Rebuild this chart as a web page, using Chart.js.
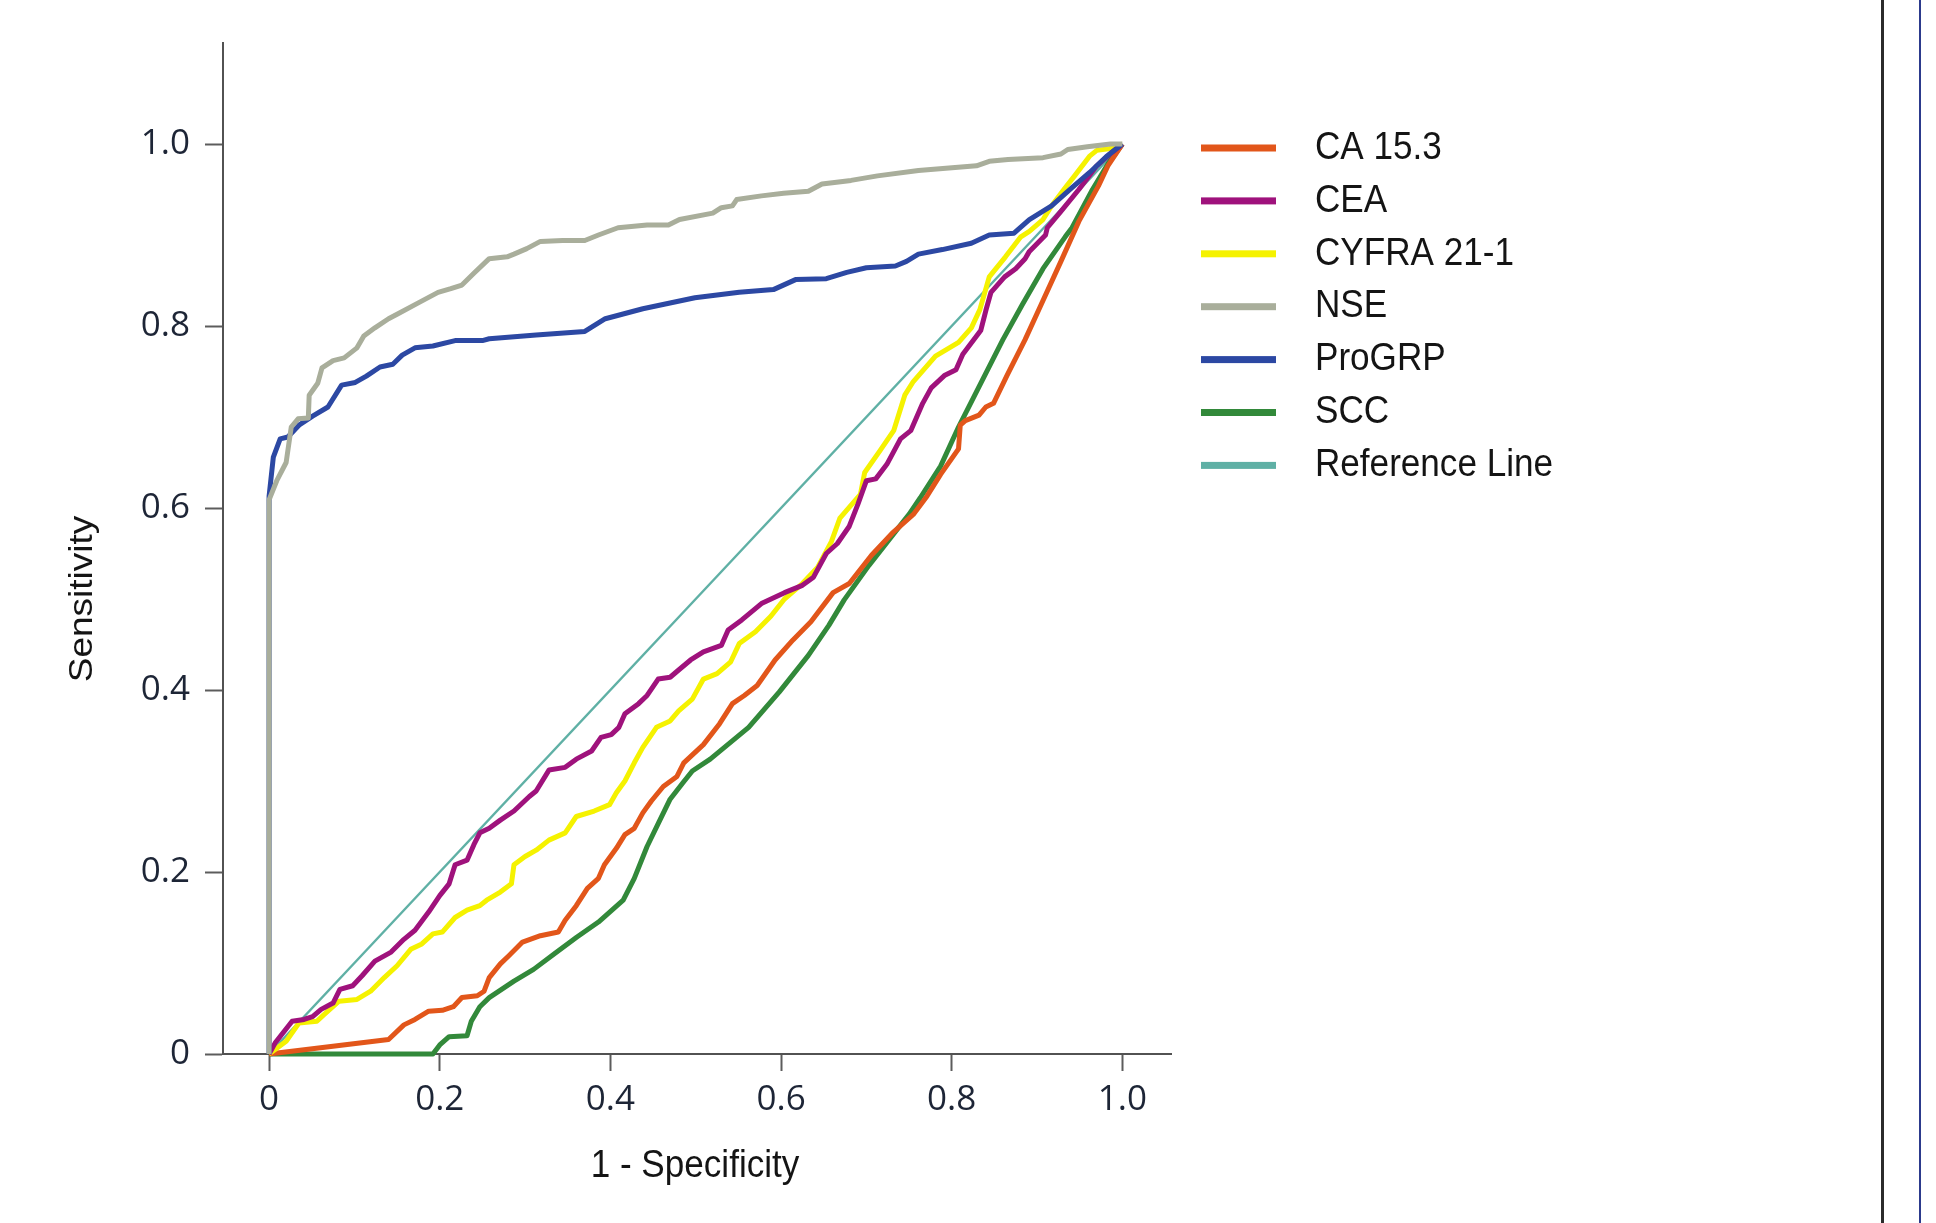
<!DOCTYPE html>
<html>
<head>
<meta charset="utf-8">
<title>ROC curves</title>
<script src="https://cdn.jsdelivr.net/npm/chart.js@4.4.1/dist/chart.umd.min.js"></script>
<style>
  html, body { margin: 0; padding: 0; background: #fff; }
  #wrap { position: relative; width: 1936px; height: 1223px; overflow: hidden; }
  #roc { position: absolute; left: 0; top: 0; }
  .edge { position: absolute; top: 0; height: 1223px; }
</style>
</head>
<body>
<div id="wrap">
  <canvas id="roc" width="1936" height="1223"></canvas>
  <div class="edge" style="left:1881px;width:3px;background:#2b2b2b"></div>
  <div class="edge" style="left:1919px;width:2px;background:#2c3a8c"></div>
</div>
<script>
// ROC curves, [1 - specificity, sensitivity]
const ca153 = [[0,0],[0.140,0.016],[0.158,0.032],[0.171,0.038],[0.187,0.047],[0.203,0.048],[0.216,0.052],[0.226,0.062],[0.244,0.064],[0.252,0.069],[0.258,0.084],[0.271,0.099],[0.281,0.108],[0.297,0.123],[0.318,0.130],[0.339,0.134],[0.347,0.147],[0.360,0.163],[0.373,0.182],[0.386,0.193],[0.393,0.208],[0.407,0.226],[0.417,0.241],[0.428,0.248],[0.438,0.265],[0.448,0.278],[0.462,0.294],[0.478,0.305],[0.486,0.320],[0.509,0.340],[0.528,0.363],[0.543,0.385],[0.557,0.394],[0.572,0.405],[0.593,0.433],[0.614,0.455],[0.635,0.475],[0.661,0.507],[0.680,0.517],[0.706,0.548],[0.730,0.572],[0.755,0.593],[0.771,0.613],[0.787,0.637],[0.808,0.665],[0.810,0.691],[0.816,0.696],[0.832,0.702],[0.840,0.711],[0.849,0.715],[0.865,0.746],[0.886,0.785],[0.905,0.824],[0.928,0.871],[0.949,0.915],[0.972,0.954],[0.983,0.976],[1,1]];

const cea = [[0,0],[0.007,0.012],[0.027,0.036],[0.041,0.038],[0.051,0.041],[0.061,0.049],[0.075,0.056],[0.083,0.071],[0.098,0.075],[0.109,0.086],[0.124,0.102],[0.143,0.112],[0.158,0.126],[0.171,0.136],[0.187,0.156],[0.200,0.174],[0.211,0.187],[0.218,0.208],[0.232,0.213],[0.240,0.230],[0.247,0.243],[0.258,0.248],[0.271,0.257],[0.287,0.267],[0.305,0.283],[0.313,0.289],[0.328,0.312],[0.347,0.315],[0.360,0.324],[0.378,0.333],[0.389,0.348],[0.401,0.351],[0.410,0.359],[0.417,0.374],[0.433,0.385],[0.443,0.394],[0.456,0.412],[0.470,0.414],[0.480,0.422],[0.494,0.433],[0.509,0.442],[0.530,0.449],[0.538,0.466],[0.554,0.477],[0.577,0.495],[0.604,0.507],[0.625,0.515],[0.638,0.524],[0.653,0.550],[0.666,0.561],[0.680,0.580],[0.690,0.604],[0.700,0.630],[0.711,0.632],[0.724,0.648],[0.740,0.676],[0.752,0.685],[0.766,0.715],[0.776,0.732],[0.792,0.746],[0.805,0.752],[0.813,0.769],[0.834,0.795],[0.840,0.817],[0.846,0.837],[0.862,0.854],[0.875,0.863],[0.886,0.874],[0.891,0.882],[0.910,0.900],[0.912,0.908],[0.928,0.926],[0.949,0.950],[0.970,0.976],[0.988,0.991],[1,1]];

const cyfra = [[0,0],[0.020,0.014],[0.035,0.034],[0.056,0.036],[0.064,0.043],[0.082,0.058],[0.103,0.060],[0.119,0.069],[0.135,0.084],[0.150,0.097],[0.166,0.115],[0.179,0.121],[0.192,0.132],[0.203,0.134],[0.218,0.150],[0.232,0.158],[0.247,0.163],[0.255,0.169],[0.271,0.178],[0.284,0.187],[0.287,0.208],[0.300,0.217],[0.313,0.224],[0.328,0.235],[0.347,0.243],[0.360,0.261],[0.381,0.267],[0.399,0.274],[0.407,0.287],[0.417,0.300],[0.428,0.320],[0.438,0.337],[0.454,0.359],[0.470,0.366],[0.480,0.377],[0.496,0.390],[0.509,0.412],[0.525,0.418],[0.541,0.431],[0.551,0.451],[0.570,0.464],[0.588,0.481],[0.604,0.500],[0.625,0.517],[0.643,0.535],[0.659,0.563],[0.669,0.589],[0.693,0.615],[0.698,0.639],[0.716,0.663],[0.732,0.685],[0.745,0.724],[0.755,0.739],[0.781,0.767],[0.808,0.782],[0.823,0.798],[0.833,0.818],[0.844,0.854],[0.863,0.876],[0.881,0.898],[0.891,0.904],[0.907,0.917],[0.917,0.932],[0.933,0.952],[0.944,0.965],[0.962,0.987],[0.970,0.993],[0.986,0.995],[1,1]];

const nse = [[0,0],[0,0.609],[0.009,0.630],[0.020,0.650],[0.026,0.689],[0.034,0.698],[0.046,0.699],[0.047,0.724],[0.057,0.737],[0.062,0.754],[0.075,0.762],[0.088,0.765],[0.103,0.776],[0.111,0.789],[0.124,0.798],[0.140,0.808],[0.150,0.813],[0.176,0.826],[0.198,0.837],[0.213,0.841],[0.226,0.845],[0.240,0.858],[0.258,0.874],[0.279,0.876],[0.287,0.879],[0.302,0.885],[0.318,0.893],[0.344,0.894],[0.370,0.894],[0.386,0.900],[0.409,0.908],[0.443,0.911],[0.468,0.911],[0.481,0.917],[0.520,0.924],[0.530,0.930],[0.543,0.932],[0.548,0.939],[0.577,0.943],[0.603,0.946],[0.632,0.948],[0.648,0.956],[0.682,0.960],[0.713,0.965],[0.761,0.971],[0.829,0.976],[0.844,0.981],[0.866,0.983],[0.907,0.985],[0.928,0.989],[0.936,0.994],[0.959,0.997],[0.986,1.0],[1,1]];

const progrp = [[0,0],[0,0.613],[0.005,0.656],[0.013,0.676],[0.022,0.678],[0.035,0.691],[0.051,0.701],[0.069,0.711],[0.085,0.735],[0.101,0.738],[0.114,0.745],[0.130,0.755],[0.145,0.758],[0.156,0.768],[0.171,0.776],[0.192,0.778],[0.218,0.784],[0.250,0.784],[0.258,0.786],[0.313,0.790],[0.370,0.794],[0.394,0.808],[0.438,0.819],[0.499,0.831],[0.551,0.837],[0.591,0.840],[0.617,0.851],[0.653,0.852],[0.677,0.859],[0.700,0.864],[0.734,0.866],[0.747,0.871],[0.761,0.879],[0.789,0.884],[0.823,0.891],[0.844,0.900],[0.873,0.902],[0.891,0.917],[0.917,0.932],[0.941,0.952],[0.962,0.969],[0.981,0.986],[1,1]];

const scc = [[0,0],[0.192,0],[0.200,0.010],[0.211,0.019],[0.232,0.020],[0.237,0.036],[0.247,0.052],[0.258,0.062],[0.287,0.080],[0.310,0.093],[0.334,0.110],[0.360,0.128],[0.386,0.145],[0.415,0.169],[0.428,0.193],[0.443,0.228],[0.457,0.255],[0.470,0.280],[0.485,0.298],[0.496,0.311],[0.517,0.324],[0.562,0.359],[0.598,0.398],[0.632,0.438],[0.656,0.471],[0.674,0.499],[0.703,0.537],[0.734,0.574],[0.750,0.593],[0.763,0.611],[0.787,0.646],[0.808,0.689],[0.834,0.737],[0.860,0.785],[0.883,0.824],[0.907,0.863],[0.933,0.898],[0.941,0.908],[0.965,0.950],[0.983,0.978],[1,1]];

const refLine = [[0,0],[1,1]];

const seriesNames = ['CA 15.3', 'CEA', 'CYFRA 21-1', 'NSE', 'ProGRP', 'SCC', 'Reference Line'];
const seriesData = [ca153, cea, cyfra, nse, progrp, scc, refLine];
const seriesColors = ['#e2561a', '#9f127c', '#f5f200', '#a9ae9b', '#2c48a3', '#32893a', '#5fb0a5'];
const seriesWidths = [5, 5, 5, 5, 5, 5, 2.5];
const drawOrder = [4, 2, 3, 0, 1, 5, 6];   // lower = drawn on top

const tickValues = [0, 0.2, 0.4, 0.6, 0.8, 1.0];
const tickLabels = ['0', '0.2', '0.4', '0.6', '0.8', '1.0'];
const xTitle = '1 - Specificity';
const yTitle = 'Sensitivity';

// the SPSS-style texts in the figure are a little narrower than Arial
const SQUEEZE = 0.9;
const textFont = '"Liberation Sans", Arial, sans-serif';
const tickFont = {family: '"Open Sans", "Noto Sans", sans-serif', size: 35};
const tickColor = '#1d2536';

// axis titles and legend drawn by hand so they can be squeezed like the original
const rocText = {
  id: 'rocText',
  afterDraw(chart) {
    const {ctx, scales: {x, y}} = chart;
    ctx.save();
    ctx.fillStyle = '#141414';

    ctx.font = '37px ' + textFont;
    ctx.textAlign = 'center';
    ctx.textBaseline = 'alphabetic';
    ctx.save();
    ctx.translate(92, y.getPixelForValue(0.5));
    ctx.scale(SQUEEZE, 1);
    ctx.rotate(-Math.PI / 2);
    ctx.fillText(yTitle, 0, 0);
    ctx.restore();

    ctx.font = '39px ' + textFont;
    ctx.save();
    ctx.translate((x.left + x.right) / 2 - 2, 1177);
    ctx.scale(SQUEEZE, 1);
    ctx.fillText(xTitle, 0, 0);
    ctx.restore();

    ctx.textAlign = 'left';
    ctx.textBaseline = 'middle';
    chart.data.datasets.forEach((ds, i) => {
      const cy = 148 + i * 52.9;
      ctx.fillStyle = ds.borderColor;
      ctx.fillRect(1201, cy - 3.5, 75, 7);
      ctx.fillStyle = '#141414';
      ctx.save();
      ctx.translate(1315, cy);
      ctx.scale(SQUEEZE, 1);
      ctx.fillText(ds.label, 0, 0);
      ctx.restore();
    });
    ctx.restore();
  }
};

const ctx = document.getElementById('roc').getContext('2d');

new Chart(ctx, {
  type: 'line',
  data: {
    datasets: seriesNames.map((name, i) => ({
      label: name,
      data: seriesData[i].map(([x, y]) => ({x, y})),
      borderColor: seriesColors[i],
      backgroundColor: seriesColors[i],
      borderWidth: seriesWidths[i],
      borderJoinStyle: 'round',
      pointRadius: 0,
      tension: 0,
      fill: false,
      clip: false,
      order: drawOrder[i]
    }))
  },
  options: {
    responsive: false,
    animation: false,
    devicePixelRatio: 1,
    events: [],
    layout: { padding: { left: 0, top: 43, right: 765, bottom: 0 } },
    plugins: { legend: { display: false }, tooltip: { enabled: false } },
    scales: {
      x: {
        type: 'linear',
        min: -0.054,
        max: 1.057,
        afterBuildTicks: s => { s.ticks = tickValues.map(v => ({value: v})); },
        afterFit: s => { s.height = 169; },
        ticks: {
          callback: (v, i) => tickLabels[i],
          font: tickFont,
          color: tickColor,
          padding: 8,
          maxRotation: 0
        },
        grid: { drawOnChartArea: false, tickLength: 17, tickColor: '#5c5c5c', tickWidth: 2 },
        border: { display: true, color: '#525252', width: 2 }
      },
      y: {
        type: 'linear',
        min: 0,
        max: 1.111,
        afterBuildTicks: s => { s.ticks = tickValues.map(v => ({value: v})); },
        afterFit: s => { s.width = 223; },
        ticks: {
          callback: (v, i) => tickLabels[i],
          font: tickFont,
          color: tickColor,
          padding: 15
        },
        grid: { drawOnChartArea: false, tickLength: 18, tickColor: '#5c5c5c', tickWidth: 2 },
        border: { display: true, color: '#525252', width: 2 }
      }
    }
  },
  plugins: [rocText]
});
</script>
</body>
</html>
